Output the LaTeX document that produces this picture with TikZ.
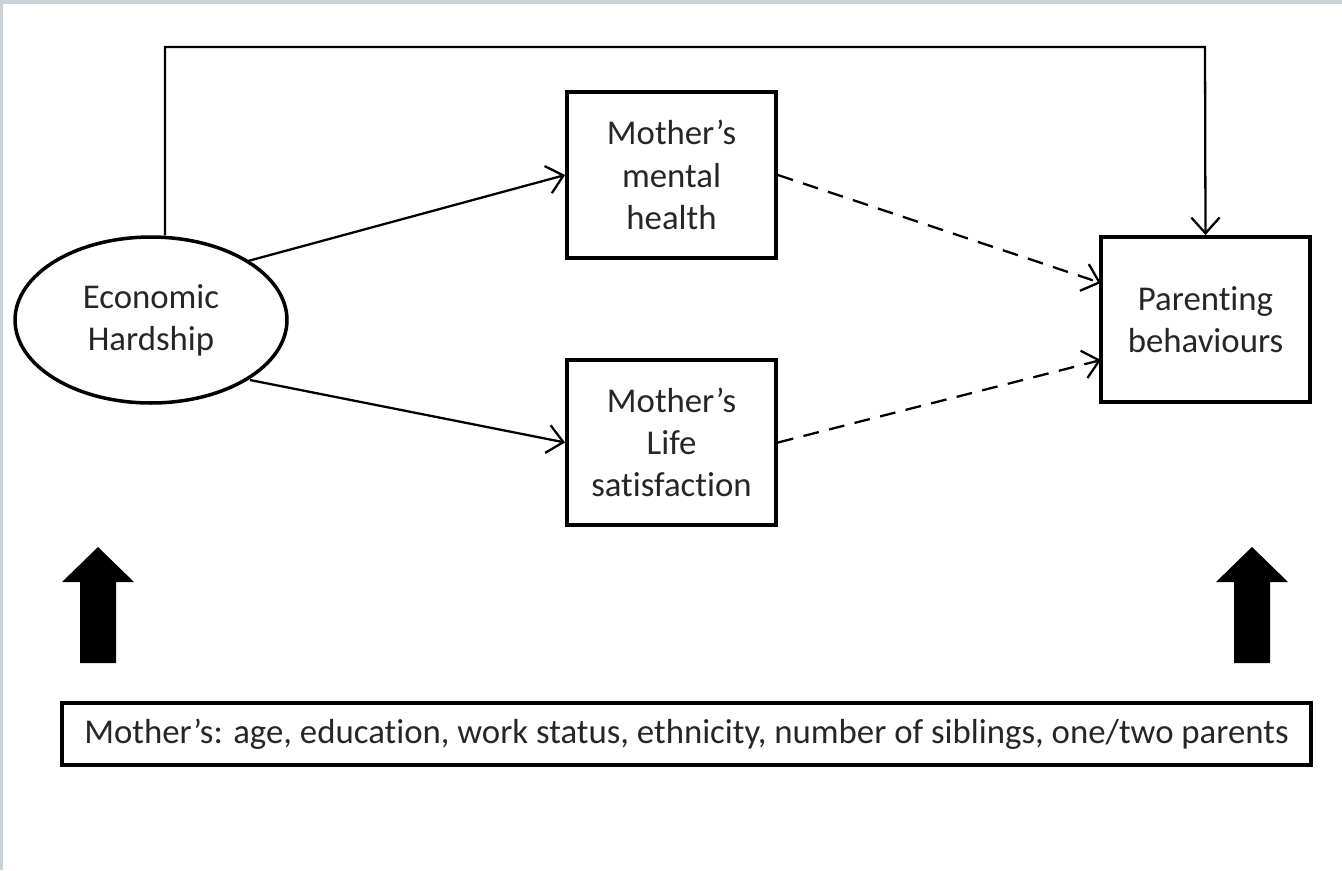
\documentclass[tikz,border=0pt]{standalone}
\usepackage{fontspec}
\setmainfont{Carlito}[Ligatures={NoCommon}]
\usetikzlibrary{shapes.geometric,arrows.meta}
\definecolor{frame}{HTML}{C8D2D9}
\begin{document}
\begin{tikzpicture}[x=0.02cm,y=-0.02cm,
  every node/.style={font=\fontsize{19.8pt}{24pt}\selectfont, text=black!85, align=center},
  boxnode/.style={draw, line width=2.2pt, inner sep=0pt},
  conn/.style={line width=1.3pt, -{Straight Barb[length=9pt,width=16pt,line width=1.3pt]}},
  dconn/.style={conn, dash pattern=on 9pt off 6pt},
  blockarrow/.style={fill=black}]
\useasboundingbox (0,0) rectangle (1342,870);
\fill[frame] (0,0) rectangle (1342,4);
\fill[frame] (0,0) rectangle (3,870);
\node[ellipse, draw, line width=2pt, inner sep=0pt, minimum width=5.44cm, minimum height=3.32cm] (eh) at (151,320) {Economic\\Hardship};
\node[boxnode, minimum width=4.18cm, minimum height=3.32cm] (mh) at (671.5,175) {Mother’s\\mental\\health};
\node[boxnode, minimum width=4.18cm, minimum height=3.3cm] (ls) at (671.5,442.5) {Mother’s\\Life\\satisfaction};
\node[boxnode, minimum width=4.18cm, minimum height=3.3cm] (pb) at (1205.5,319.5) {Parenting\\behaviours};
\node[boxnode, minimum width=24.98cm, minimum height=1.24cm] (cov) at (686.5,734) {Mother’s: age, education, work status, ethnicity, number of siblings, one/two parents};
\coordinate (tl) at (165,47);
\coordinate (tr) at (1205,47);
\draw[conn] (eh.north -| tl) -- (tl) -- (tr) -- (pb.north);
\coordinate (e1) at (248,261);
\coordinate (e2) at (250,380);
\draw[conn] (e1) -- (mh.west);
\draw[conn] (e2) -- (ls.west);
\coordinate (pbin1) at (1101,283);
\coordinate (pbin2) at (1101,360);
\draw[dconn] (mh.east) -- (pbin1);
\draw[dconn] (ls.east) -- (pbin2);
\coordinate (la) at (98,547);
\coordinate (ra) at (1252,547);
\fill[blockarrow] (la) -- ++(36,35) -- ++(-18,0) -- ++(0,81) -- ++(-36,0) -- ++(0,-81) -- ++(-18,0) -- cycle;
\fill[blockarrow] (ra) -- ++(36,35) -- ++(-18,0) -- ++(0,81) -- ++(-36,0) -- ++(0,-81) -- ++(-18,0) -- cycle;
\end{tikzpicture}
\end{document}
